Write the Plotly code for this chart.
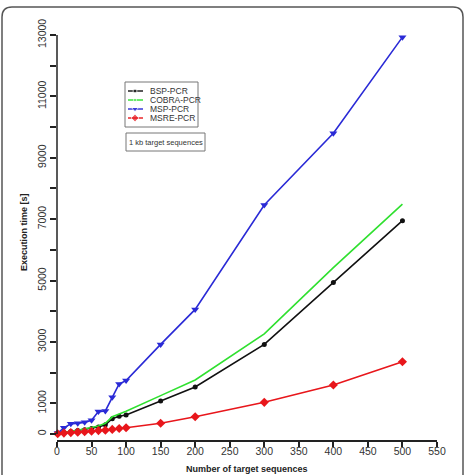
import plotly.graph_objects as go

# ---------------- data ----------------
n_targets = [1, 10, 20, 30, 40, 50, 60, 70, 80, 90, 100, 150, 200, 300, 400, 500]
bsp_pcr   = [20, 50, 80, 110, 140, 180, 230, 300, 500, 580, 620, 1075, 1530, 2920, 4940, 6950]
cobra_pcr = [20, 60, 90, 120, 160, 200, 260, 350, 560, 650, 740, 1250, 1760, 3260, 5420, 7490]
msp_pcr   = [30, 200, 330, 350, 380, 450, 730, 750, 1200, 1630, 1740, 2920, 4060, 7460, 9800, 12930]
msre_pcr  = [10, 30, 45, 60, 75, 90, 110, 125, 150, 180, 205, 348, 560, 1032, 1596, 2355]

series_names = ["BSP-PCR", "COBRA-PCR", "MSP-PCR", "MSRE-PCR"]
x_ticks = list(range(0, 551, 50))
y_ticks = list(range(0, 13001, 1000))
y_tick_text = [str(v) if (v // 1000) % 2 == 1 or v == 0 else "" for v in y_ticks]
note_text = "1 kb target sequences"
x_title = "Number of target sequences"
y_title = "Execution time [s]"

# ---------------- styles ----------------
FONT = "Liberation Sans, Arial, Helvetica, sans-serif"
colors = ["#111111", "#2fe02f", "#2a2ad6", "#e8161b"]
symbols = ["circle", None, "triangle-down", "diamond"]
msizes = [5, 0, 7, 7]

W, H = 467, 475
L, R, T, B = 57, 30, 35, 35
PW, PH = W - L - R, H - T - B
Y_TOP = 13000
Y_BOTTOM = -6 * Y_TOP / 399.0


def px2x(px):
    return (px - L) / PW


def py2y(py):
    return (H - B - py) / PH


fig = go.Figure()
for name, ys, c, s, ms in zip(series_names, [bsp_pcr, cobra_pcr, msp_pcr, msre_pcr],
                              colors, symbols, msizes):
    mode = "lines+markers" if s else "lines"
    fig.add_trace(go.Scatter(
        x=n_targets, y=ys, name=name, mode=mode,
        line=dict(color=c, width=1.6),
        marker=dict(symbol=s or "circle", size=ms, color=c),
        showlegend=False, cliponaxis=False,
    ))

# manual legend samples on a pixel-coordinate overlay axis
leg_y0 = 91
leg_dy = 9
for i, (name, c, s, ms) in enumerate(zip(series_names, colors, symbols, msizes)):
    yy = leg_y0 + i * leg_dy
    fig.add_trace(go.Scatter(
        x=[128, 135, 143], y=[yy, yy, yy], mode="lines+markers",
        xaxis="x2", yaxis="y2",
        line=dict(color=c, width=1.4),
        marker=dict(symbol=[s or "circle"] * 3, size=[0, max(ms - 1, 3), 0], color=c),
        showlegend=False, hoverinfo="skip",
    ))
    fig.add_annotation(x=148, y=yy, xref="x2", yref="y2", text=name, showarrow=False,
                       xanchor="left", yanchor="middle",
                       font=dict(family=FONT, size=8.5, color="#333"))

shapes = []
# legend box
shapes.append(dict(type="rect", xref="x2", yref="y2", x0=125, x1=198, y0=82, y1=127,
                   line=dict(color="#777", width=1)))
# note box
shapes.append(dict(type="rect", xref="x2", yref="y2", x0=126, x1=205, y0=133, y1=151,
                   line=dict(color="#777", width=1)))
# y axis line (detached, R style)
shapes.append(dict(type="line", xref="paper", yref="y", x0=0, x1=0, y0=0, y1=Y_TOP,
                   line=dict(color="#222", width=1.5)))
# outer rounded frame
r = 10
fx0, fx1, fy0, fy1 = 2, 463, 7, 490
path = (f"M {px2x(fx0)},{py2y(fy1)} L {px2x(fx0)},{py2y(fy0 + r)} "
        f"Q {px2x(fx0)},{py2y(fy0)} {px2x(fx0 + r)},{py2y(fy0)} "
        f"L {px2x(fx1 - r)},{py2y(fy0)} "
        f"Q {px2x(fx1)},{py2y(fy0)} {px2x(fx1)},{py2y(fy0 + r)} "
        f"L {px2x(fx1)},{py2y(fy1)}")
shapes.append(dict(type="path", xref="paper", yref="paper", path=path,
                   line=dict(color="#555", width=1.5)))

fig.add_annotation(x=165.5, y=142, xref="x2", yref="y2", text=note_text, showarrow=False,
                   xanchor="center", yanchor="middle",
                   font=dict(family=FONT, size=7.5, color="#333"))

fig.add_annotation(x=px2x(247), y=py2y(469), xref="paper", yref="paper", text=f"<b>{x_title}</b>",
                   showarrow=False, xanchor="center", yanchor="middle",
                   font=dict(family=FONT, size=9, color="#222"))
fig.add_annotation(x=px2x(24), y=py2y(232), xref="paper", yref="paper", text=f"<b>{y_title}</b>",
                   showarrow=False, textangle=-90, xanchor="center", yanchor="middle",
                   font=dict(family=FONT, size=9, color="#222"))

fig.update_layout(
    width=W, height=H,
    margin=dict(l=L, r=R, t=T, b=B, pad=0),
    paper_bgcolor="white", plot_bgcolor="white",
    font=dict(family=FONT, size=10.5, color="#333"),
    shapes=shapes,
    xaxis=dict(range=[0, 550], tickvals=x_ticks, ticktext=[str(v) for v in x_ticks],
               showgrid=False, zeroline=False, showline=True, linecolor="#222", linewidth=1.5,
               ticks="outside", ticklen=5, tickwidth=1.5, tickcolor="#222",
               ticklabelstandoff=-4,
               tickfont=dict(family=FONT, size=10.5, color="#333")),
    yaxis=dict(range=[Y_BOTTOM, Y_TOP], tickvals=y_ticks, ticktext=y_tick_text,
               showgrid=False, zeroline=False, showline=False,
               ticks="outside", ticklen=6, tickwidth=1.5, tickcolor="#222", tickangle=-90,
               tickfont=dict(family=FONT, size=10.5, color="#333")),
    xaxis2=dict(overlaying="x", range=[L, L + PW], visible=False, fixedrange=True),
    yaxis2=dict(overlaying="y", range=[H - B, T], visible=False, fixedrange=True),
)

fig.write_html("out.html")
